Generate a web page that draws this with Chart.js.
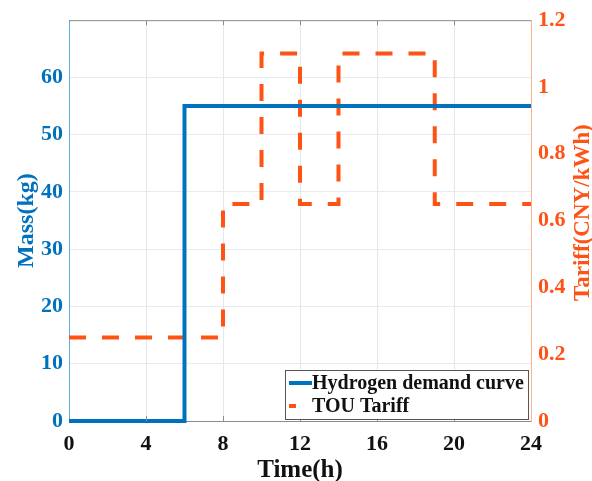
<!DOCTYPE html>
<html>
<head>
<meta charset="utf-8">
<script src="https://cdn.jsdelivr.net/npm/chart.js@4/dist/chart.umd.min.js"></script>
<style>
  html, body { margin: 0; padding: 0; background: #fff; }
  #wrap { width: 592px; height: 481px; }
</style>
</head>
<body>
<div id="wrap"><canvas id="chart"></canvas></div>
<script>
// dados
const horasDemanda = [0, 6, 24];
const demandaKg    = [0, 55, 55];
const horasTarifa  = [0, 8, 10, 12, 14, 19, 24];
const tarifa       = [0.25, 0.65, 1.1, 0.65, 1.1, 0.65, 0.65];
const ticksTempo   = [0, 4, 8, 12, 16, 20, 24];

const AZUL = '#0072BD';
const LARANJA = '#FF5316';
const FONTE = "'Liberation Serif', 'Times New Roman', serif";

// borda superior do quadro + marcas internas
const bordaTopo = {
  id: 'bordaTopo',
  afterDraw(chart) {
    const { ctx, chartArea: a } = chart;
    ctx.save();
    ctx.strokeStyle = '#8c8c8c';
    ctx.lineWidth = 1;
    ctx.beginPath();
    ctx.moveTo(a.left, a.top + 0.5);
    ctx.lineTo(a.right, a.top + 0.5);
    ctx.stroke();
    const x = chart.scales.x;
    ticksTempo.slice(1, -1).forEach(t => {
      const px = Math.round(x.getPixelForValue(t)) + 0.5;
      ctx.beginPath();
      ctx.moveTo(px, a.top); ctx.lineTo(px, a.top + 5);
      ctx.moveTo(px, a.bottom); ctx.lineTo(px, a.bottom - 5);
      ctx.stroke();
    });
    ctx.restore();
  }
};

// título do eixo direito lido de baixo para cima (como no MATLAB)
const tituloDireito = {
  id: 'tituloDireito',
  afterDraw(chart) {
    const { ctx, chartArea: a } = chart;
    ctx.save();
    ctx.translate(583, (a.top + a.bottom) / 2 - 8);
    ctx.rotate(-Math.PI / 2);
    ctx.font = 'bold 23px ' + FONTE;
    ctx.fillStyle = LARANJA;
    ctx.textAlign = 'center';
    ctx.textBaseline = 'middle';
    ctx.fillText('Tariff(CNY/kWh)', 0, 0);
    ctx.restore();
  }
};

// legenda dentro da área do gráfico, canto inferior direito
const legendaInterna = {
  id: 'legendaInterna',
  afterDraw(chart) {
    const { ctx, chartArea: a } = chart;
    const w = 243, h = 49;
    const x0 = a.right - 3 - w, y0 = a.bottom - 2 - h;
    ctx.save();
    ctx.fillStyle = '#fff';
    ctx.fillRect(x0, y0, w, h);
    ctx.strokeStyle = '#555';
    ctx.lineWidth = 1;
    ctx.strokeRect(x0 + 0.5, y0 + 0.5, w, h);
    ctx.font = 'bold 20px ' + FONTE;
    ctx.textBaseline = 'middle';
    chart.data.datasets.forEach((ds, i) => {
      const cy = y0 + 13 + i * 23;
      ctx.strokeStyle = ds.borderColor;
      ctx.lineWidth = 4;
      ctx.setLineDash(i === 1 ? [7, 20] : []);
      ctx.beginPath();
      ctx.moveTo(x0 + 4, cy);
      ctx.lineTo(x0 + 27, cy);
      ctx.stroke();
      ctx.setLineDash([]);
      ctx.fillStyle = '#111';
      ctx.fillText(ds.label, x0 + 27, cy + 1);
    });
    ctx.restore();
  }
};

new Chart(document.getElementById('chart'), {
  type: 'line',
  data: {
    datasets: [
      {
        label: 'Hydrogen demand curve',
        data: horasDemanda.map((h, i) => ({ x: h, y: demandaKg[i] })),
        yAxisID: 'y',
        borderColor: AZUL,
        borderWidth: 4,
        stepped: 'before',
        pointRadius: 0,
        clip: 4
      },
      {
        label: 'TOU Tariff',
        data: horasTarifa.map((h, i) => ({ x: h, y: tarifa[i] })),
        yAxisID: 'y1',
        borderColor: LARANJA,
        borderWidth: 4,
        borderDash: [17, 16],
        stepped: 'before',
        pointRadius: 0,
        clip: 4
      }
    ]
  },
  options: {
    responsive: true,
    maintainAspectRatio: false,
    animation: false,
    layout: { padding: { top: 18 } },
    plugins: { legend: { display: false }, tooltip: { enabled: false } },
    scales: {
      x: {
        type: 'linear',
        min: 0, max: 24,
        afterBuildTicks: s => { s.ticks = ticksTempo.map(v => ({ value: v })); },
        afterFit: s => { s.height = 60; },
        grid: { color: '#e3e8ee', drawTicks: false },
        border: { color: '#8c8c8c' },
        ticks: { color: '#111', padding: 10, font: { family: FONTE, size: 22, weight: 'bold' } },
        title: { display: true, text: 'Time(h)', color: '#111', padding: 0,
                 font: { family: FONTE, size: 25, weight: 'bold', lineHeight: 0.8 } }
      },
      y: {
        position: 'left',
        min: 0, max: 70,
        afterFit: s => { s.width = 69; },
        grid: { color: '#e3ecf4', drawTicks: false },
        border: { color: '#5aaede' },
        ticks: { stepSize: 10, color: AZUL, padding: 6,
                 callback: v => v === 70 ? '' : v,
                 font: { family: FONTE, size: 22, weight: 'bold' } },
        title: { display: true, text: 'Mass(kg)', color: AZUL, padding: { top: 12, bottom: 0 },
                 font: { family: FONTE, size: 24, weight: 'bold', lineHeight: 1.2 } }
      },
      y1: {
        position: 'right',
        min: 0, max: 1.2,
        afterFit: s => { s.width = 61; },
        grid: { display: false, drawTicks: false },
        border: { color: '#ffb08f' },
        ticks: { stepSize: 0.2, color: LARANJA, padding: 7,
                 callback: v => Number(v.toFixed(1)),
                 font: { family: FONTE, size: 22, weight: 'bold' } }
      }
    }
  },
  plugins: [bordaTopo, tituloDireito, legendaInterna]
});
</script>
</body>
</html>
